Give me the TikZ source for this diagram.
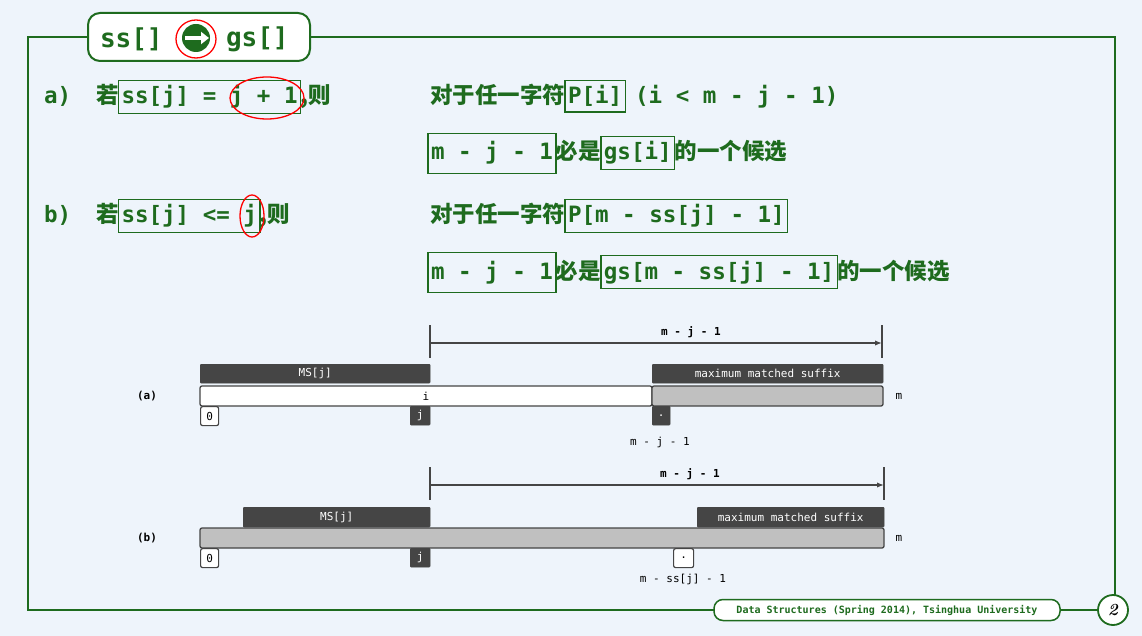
\documentclass[tikz,border=0pt]{standalone}
\usepackage{fontspec}
\setmonofont{DejaVu Sans Mono}
\newfontfamily\cjk{Noto Sans CJK SC}
\newfontfamily\dmono{DejaVu Sans Mono}
\usetikzlibrary{arrows.meta}
\definecolor{gr}{HTML}{1E6B1E}
\definecolor{bg}{HTML}{EEF4FB}
\definecolor{dk}{HTML}{454545}
\definecolor{lg}{HTML}{C0C0C0}
\tikzset{
 txt/.style={inner sep=0pt,outer sep=0pt,text=gr,font=\fontsize{22.5}{26}\selectfont\ttfamily\bfseries},
 ctxt/.style={inner sep=0pt,outer sep=0pt,text=gr,font=\fontsize{22.5}{26}\selectfont\cjk\bfseries},
 bx/.style={txt,draw=gr,line width=1.2pt,inner xsep=3pt,inner ysep=5pt},
 redring/.style={draw=red,line width=1.3pt},
 dkbar/.style={fill=dk,draw=dk,rounded corners=1pt},
 lab/.style={font=\fontsize{11}{12}\selectfont\dmono,inner sep=0pt},
 wlab/.style={font=\fontsize{11}{12}\selectfont\dmono,text=white,inner sep=0pt},
 tick/.style={line width=2.5pt,draw=dk},
 meas/.style={draw=dk,line width=1.2pt,-{Latex[length=7pt]}},
}
\begin{document}
\begin{tikzpicture}[x=1pt,y=-1pt]
\fill[bg] (0,0) rectangle (1142,636);
\useasboundingbox (0,0) rectangle (1142,636);
% frame
\draw[gr,line width=1.5pt] (310,37) -- (1115,37) -- (1115,595);
\draw[gr,line width=1.5pt] (88,37) -- (28,37) -- (28,610) -- (714,610);
\draw[gr,line width=1.5pt] (1060,610) -- (1098,610);
% title
\node[draw=gr,line width=2pt,rounded corners=12pt,fill=white,minimum width=222pt,minimum height=48pt] (title) at (199,37) {};
\node[txt,font=\fontsize{26}{30}\selectfont\ttfamily\bfseries,anchor=west] (tss) at (100,39) {ss[]};
\node[circle,fill=gr,minimum size=28pt,inner sep=0pt] (tarr) at (196,38) {};
\draw[white,line width=3.5pt,-{Triangle[length=8pt,width=12pt]}] (185,38) -- (209,38);
\draw[redring] (196,39) ellipse (20pt and 19pt);
\node[txt,font=\fontsize{26}{30}\selectfont\ttfamily\bfseries,anchor=west] (tgs) at (226,39) {gs[]};
% footer
\node[draw=gr,line width=1.5pt,rounded corners=9pt,fill=white,minimum width=346pt,minimum height=21pt] (foot) at (887,610) {};
\node[text=gr,font=\fontsize{10}{12}\selectfont\ttfamily\bfseries] at (foot) {Data Structures (Spring 2014), Tsinghua University};
\node[circle,draw=gr,line width=1.8pt,fill=white,minimum size=30pt,inner sep=0pt,font=\fontsize{17}{20}\selectfont\itshape\bfseries] (pg) at (1113,610) {2};
% row a
\node[txt,anchor=base west] (la) at (44,104) {a)};
\node[ctxt,anchor=base west] (ra) at (96,104) {若};
\node[bx,anchor=base west] (a1) at (ra.base east) {ss[j] = j + 1};
\node[ctxt,anchor=base west] (a2) at (a1.base east) {,则};
\draw[redring] (267,98) ellipse (37pt and 21pt);
\node[ctxt,anchor=base west] (a3) at (430,104) {对于任一字符};
\node[bx,anchor=base west] (a4) at (a3.base east) {P[i]};
\node[txt,anchor=base west] (a5) at ([xshift=10pt]a4.base east) {(i < m - j - 1)};
\node[bx,anchor=base west,minimum height=40pt] (c1) at (428,160) {m - j - 1};
\node[ctxt,anchor=base west] (c2) at (c1.base east) {必是};
\node[bx,anchor=base west] (c3) at (c2.base east) {gs[i]};
\node[ctxt,anchor=base west] (c4) at (c3.base east) {的一个候选};
% row b
\node[txt,anchor=base west] (lb) at (44,223) {b)};
\node[ctxt,anchor=base west] (rb) at (96,223) {若};
\node[bx,anchor=base west] (b1) at (rb.base east) {ss[j] <= j};
\node[ctxt,anchor=base west] (b2) at (b1.base east) {,则};
\draw[redring] (252,216) ellipse (12pt and 21pt);
\node[ctxt,anchor=base west] (b3) at (430,223) {对于任一字符};
\node[bx,anchor=base west] (b4) at (b3.base east) {P[m - ss[j] - 1]};
\node[bx,anchor=base west,minimum height=40pt] (d1) at (428,279) {m - j - 1};
\node[ctxt,anchor=base west] (d2) at (d1.base east) {必是};
\node[bx,anchor=base west] (d3) at (d2.base east) {gs[m - ss[j] - 1]};
\node[ctxt,anchor=base west] (d4) at (d3.base east) {的一个候选};
% diagram a
\coordinate (aL) at (430,343); \coordinate (aR) at (882,343);
\draw[tick] (430,325) -- (430,358); \draw[tick] (882,325) -- (882,358);
\draw[meas] (aL) -- (aR) node[lab,midway,above=5pt,xshift=35pt,font=\fontsize{11}{12}\selectfont\dmono\bfseries] {m - j - 1};
\node[dkbar,minimum width=230pt,minimum height=19pt,anchor=north west,inner sep=0pt] (ams) at (200,364) {};
\node[wlab] at (ams) {MS[j]};
\node[dkbar,minimum width=231pt,minimum height=19pt,anchor=north west,inner sep=0pt] (amx) at (652,364) {};
\node[wlab] at (amx) {maximum matched suffix};
\draw[dk,line width=1.3pt,fill=white,rounded corners=2pt] (200,386) rectangle (652,406);
\draw[dk,line width=1.3pt,fill=lg,rounded corners=2pt] (652,386) rectangle (883,406);
\node[lab] (ai) at (426,396) {i};
\node[draw=dk,line width=1.2pt,fill=white,rounded corners=2pt,minimum width=18pt,minimum height=19pt,anchor=north west,inner sep=0pt,lab] (a0) at (200,406) {0};
\node[dkbar,minimum width=20pt,minimum height=19pt,anchor=north west,inner sep=0pt] (aj) at (410,406) {};
\node[wlab] at (aj) {j};
\node[dkbar,minimum width=18pt,minimum height=19pt,anchor=north west,inner sep=0pt] (adot) at (652,406) {};
\node[wlab] at (adot) {.};
\node[lab] at (660,442) {m - j - 1};
\node[lab] at (899,396) {m};
\node[lab,font=\fontsize{11}{12}\selectfont\dmono\bfseries] at (147,396) {(a)};
% diagram b
\coordinate (bL) at (430,485); \coordinate (bR) at (884,485);
\draw[tick] (430,467) -- (430,500); \draw[tick] (884,467) -- (884,500);
\draw[meas] (bL) -- (bR) node[lab,midway,above=5pt,xshift=33pt,font=\fontsize{11}{12}\selectfont\dmono\bfseries] {m - j - 1};
\node[dkbar,minimum width=187pt,minimum height=20pt,anchor=north west,inner sep=0pt] (bms) at (243,507) {};
\node[wlab] at (bms) {MS[j]};
\node[dkbar,minimum width=187pt,minimum height=20pt,anchor=north west,inner sep=0pt] (bmx) at (697,507) {};
\node[wlab] at (bmx) {maximum matched suffix};
\draw[dk,line width=1.3pt,fill=lg,rounded corners=2pt] (200,528) rectangle (884,548);
\node[draw=dk,line width=1.2pt,fill=white,rounded corners=2pt,minimum width=18pt,minimum height=19pt,anchor=north west,inner sep=0pt,lab] (b0) at (200,548) {0};
\node[dkbar,minimum width=20pt,minimum height=19pt,anchor=north west,inner sep=0pt] (bj) at (410,548) {};
\node[wlab] at (bj) {j};
\node[draw=dk,line width=1.2pt,fill=white,rounded corners=2pt,minimum width=20pt,minimum height=19pt,anchor=north west,inner sep=0pt,lab] (bdot) at (673,548) {.};
\node[lab] at (683,579) {m - ss[j] - 1};
\node[lab] at (899,538) {m};
\node[lab,font=\fontsize{11}{12}\selectfont\dmono\bfseries] at (147,538) {(b)};
\end{tikzpicture}
\end{document}
